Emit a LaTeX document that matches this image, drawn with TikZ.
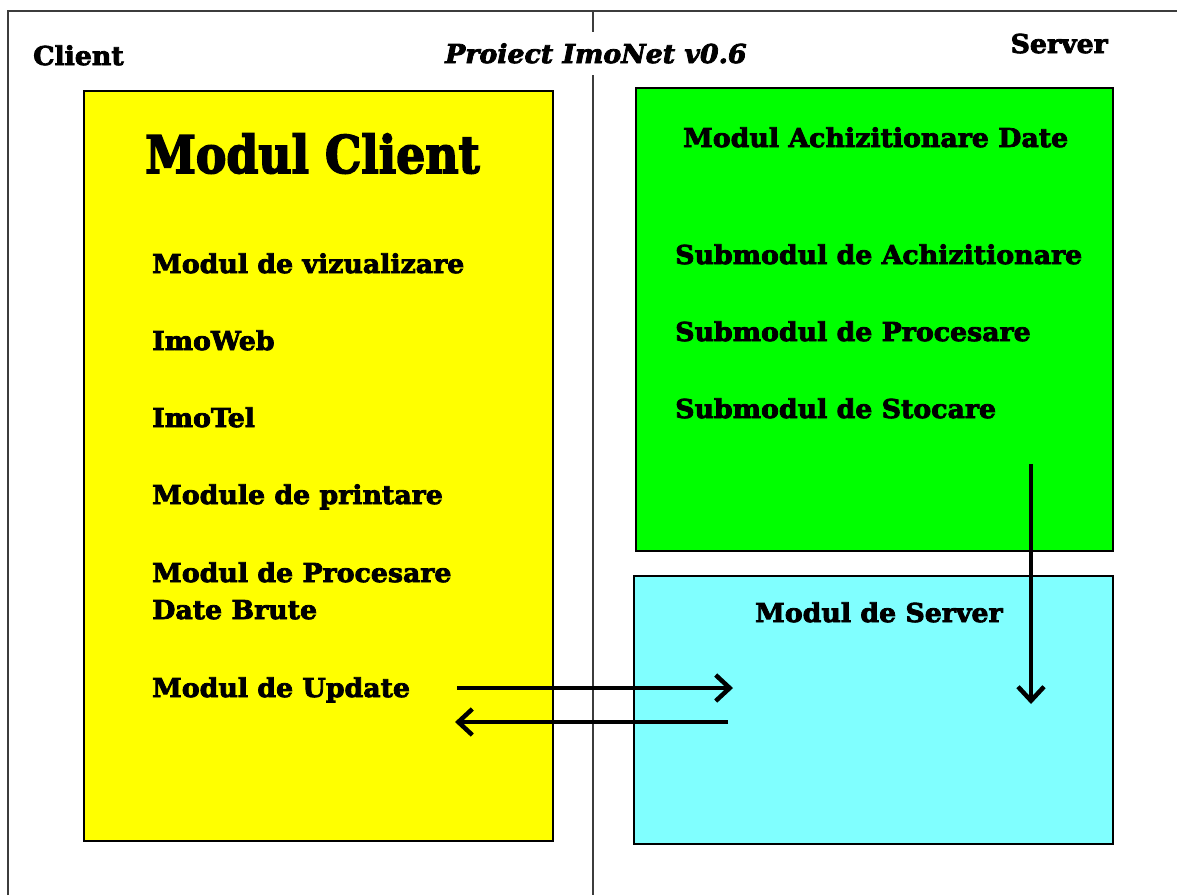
\documentclass[tikz,border=0pt]{standalone}
\usepackage{fontspec}
\usetikzlibrary{arrows.meta}
\newfontfamily\blk[FakeStretch=1.03,FakeBold=3]{DejaVu Serif}
\newfontfamily\blkbig[FakeStretch=0.88,FakeBold=3]{DejaVu Serif}
\definecolor{frameline}{RGB}{60,60,60}
\definecolor{ylw}{RGB}{255,255,0}
\definecolor{grn}{RGB}{0,255,0}
\definecolor{cyn}{RGB}{128,255,255}
\begin{document}
\begin{tikzpicture}[x=1pt,y=-1pt,
  frame/.style={draw=frameline,line width=2.4pt},
  panel/.style={draw=black,line width=2.2pt,anchor=north west,inner sep=0pt},
  txt/.style={anchor=base west,inner sep=0pt,font=\blk\bfseries\fontsize{26}{28}\selectfont},
  bigtxt/.style={anchor=base west,inner sep=0pt,font=\blkbig\bfseries\fontsize{52}{56}\selectfont},
  conn/.style={line width=4.5pt,-{Straight Barb[length=14pt,width=26pt,line width=4.5pt]}}]
\useasboundingbox (0,0) rectangle (1177,895);
\fill[white] (0,0) rectangle (1177,895);
% frame
\coordinate (fTL) at (8,11);
\coordinate (fTR) at (1177,11);
\coordinate (fBL) at (8,895);
\coordinate (dTop) at (593,11);
\coordinate (dGapA) at (593,32);
\coordinate (dGapB) at (593,75);
\coordinate (dBot) at (593,895);
\draw[frame] (fBL) -- (fTL) -- (fTR);
\draw[frame] (dTop) -- (dGapA);
\draw[frame] (dGapB) -- (dBot);
% panels
\node[panel,fill=ylw,minimum width=469pt,minimum height=750pt] (client) at (83,90) {};
\node[panel,fill=grn,minimum width=477pt,minimum height=463pt] (acq) at (635,87) {};
\node[panel,fill=cyn,minimum width=479pt,minimum height=268pt] (srv) at (633,575) {};
% headings
\node[txt] (lclient) at (33,65) {Client};
\node[txt,font=\blk\bfseries\itshape\fontsize{26}{28}\selectfont] (ltitle) at (445,63) {Proiect ImoNet v0.6};
\node[txt,anchor=base east] (lserver) at (1108,53) {Server};
% client module
\node[bigtxt] (mclient) at (145,173) {Modul Client};
\node[txt] (c1) at (152,273) {Modul de vizualizare};
\node[txt] (c2) at (152,350) {ImoWeb};
\node[txt] (c3) at (152,427) {ImoTel};
\node[txt] (c4) at (152,504) {Module de printare};
\node[txt] (c5) at (152,582) {Modul de Procesare};
\node[txt] (c5b) at (152,619) {Date Brute};
\node[txt] (c6) at (152,697) {Modul de Update};
% acquisition module
\node[txt] (ma) at (683,147) {Modul Achizitionare Date};
\node[txt] (a1) at (675,264) {Submodul de Achizitionare};
\node[txt] (a2) at (675,341) {Submodul de Procesare};
\node[txt] (a3) at (675,418) {Submodul de Stocare};
% server module
\node[txt] (ms) at (755,622) {Modul de Server};
% connectors
\coordinate (upOut) at (457,688);
\coordinate (srvIn) at (733,688);
\coordinate (srvOut) at (728,722);
\coordinate (upIn) at (455,722);
\coordinate (stoOut) at (1031,464);
\coordinate (srvDown) at (1031,704);
\draw[conn] (upOut) -- (srvIn);
\draw[conn] (srvOut) -- (upIn);
\draw[conn] (stoOut) -- (srvDown);
\end{tikzpicture}
\end{document}
